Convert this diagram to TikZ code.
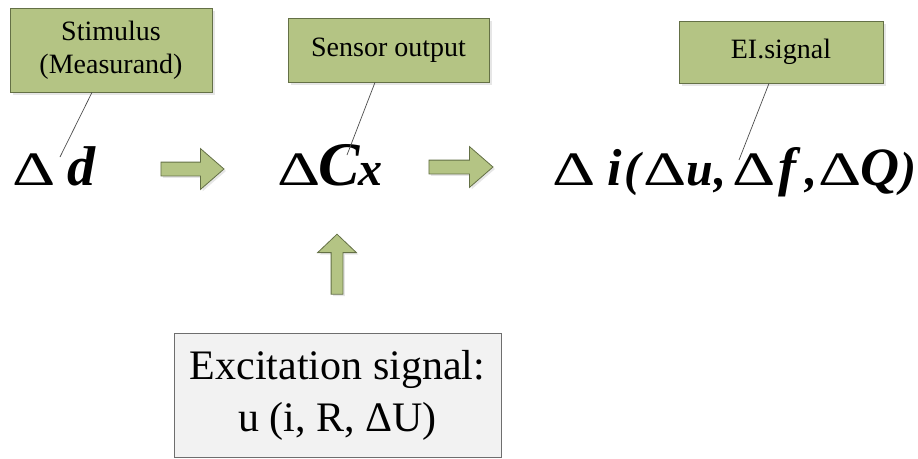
\documentclass[tikz,border=0pt]{standalone}
\usepackage{fontspec}
\setmainfont{Liberation Serif}
\usetikzlibrary{shapes.arrows,shadows}
\definecolor{olive}{RGB}{180,196,132}
\definecolor{moss}{RGB}{100,112,70}
\definecolor{paper}{RGB}{242,242,242}
\definecolor{slate}{RGB}{110,110,110}
\newcommand{\bi}[1]{\textbf{\textit{#1}}}
% wide delta and fixed-width glyph slots
\newcommand{\wD}{\scalebox{1.4}[1]{Δ}}
\newcommand{\slot}[2]{\makebox[#1][l]{#2}}
\tikzset{
  tagbox/.style={draw=moss,fill=olive,line width=0.8pt,align=center,inner sep=0pt,
    font=\fontsize{28}{33}\selectfont,
    drop shadow={shadow xshift=3pt,shadow yshift=-3pt,opacity=0.2}},
  sourcebox/.style={draw=slate,fill=paper,line width=0.8pt,align=center,inner sep=0pt,
    font=\fontsize{42}{52}\selectfont},
  formula/.style={anchor=base west,inner sep=0pt,font=\fontsize{48}{58}\selectfont},
  blockarrow/.style={single arrow,draw=moss,fill=olive,line width=0.8pt,
    inner sep=0pt,inner ysep=6.5pt,minimum height=#1,
    single arrow head extend=13.5pt,single arrow tip angle=82,
    drop shadow={shadow xshift=2pt,shadow yshift=-2pt,opacity=0.2}},
  callout/.style={draw=black!70,line width=0.7pt},
}
\begin{document}
\begin{tikzpicture}[x=1pt,y=-1pt]
  \useasboundingbox (0,0) rectangle (918,458);
  % labels above
  \node[tagbox,minimum width=202pt,minimum height=84pt] (stim) at (111,50) {Stimulus\\(Measurand)};
  \node[tagbox,minimum width=201pt,minimum height=64pt] (sens) at (388.5,50) {Sensor output};
  \node[tagbox,minimum width=204pt,minimum height=62pt] (eis) at (781,52) {EI.signal};
  % quantities
  \node[formula] (din) at (12,185) {\slot{55pt}{\wD}{\fontsize{56}{56}\selectfont\bi{d}}};
  \node[formula] (cx) at (277,185) {\slot{41pt}{\wD}\slot{40pt}{\fontsize{62}{62}\selectfont\bi{C}}\bi{x}};
  \node[formula] (iout) at (552,185) {\slot{55pt}{\wD}\slot{17pt}{\fontsize{52}{52}\selectfont\bi{i}}\slot{19pt}{\bi{(}}%
    \slot{43pt}{\wD}\slot{28pt}{\bi{u}}\slot{18pt}{\bi{,}}%
    \slot{46pt}{\wD}\slot{27pt}{\fontsize{54}{54}\selectfont\bi{f}}\slot{13pt}{\bi{,}}%
    \slot{42pt}{\wD}\slot{40pt}{\fontsize{54}{54}\selectfont\bi{Q}}\bi{)}};
  % callout lines
  \coordinate (dtip) at (60,157);
  \coordinate (ctip) at (347,155);
  \coordinate (itip) at (739,160);
  \draw[callout] ([xshift=-19pt]stim.south) -- (dtip);
  \draw[callout] ([xshift=-13.5pt]sens.south) -- (ctip);
  \draw[callout] ([xshift=-12pt]eis.south) -- (itip);
  % flow arrows
  \node[blockarrow=63pt] (a1) at (188.5,169) {};
  \node[blockarrow=64pt] (a2) at (457,167) {};
  \node[blockarrow=60pt,rotate=90,inner ysep=5.5pt,single arrow head extend=13.5pt,
    single arrow tip angle=93] (a3) at (337,267) {};
  % excitation
  \node[sourcebox,minimum width=327pt,minimum height=124pt] (exc) at (337.5,395)
    {Excitation signal:\\u (i, R, ΔU)};
\end{tikzpicture}
\end{document}
